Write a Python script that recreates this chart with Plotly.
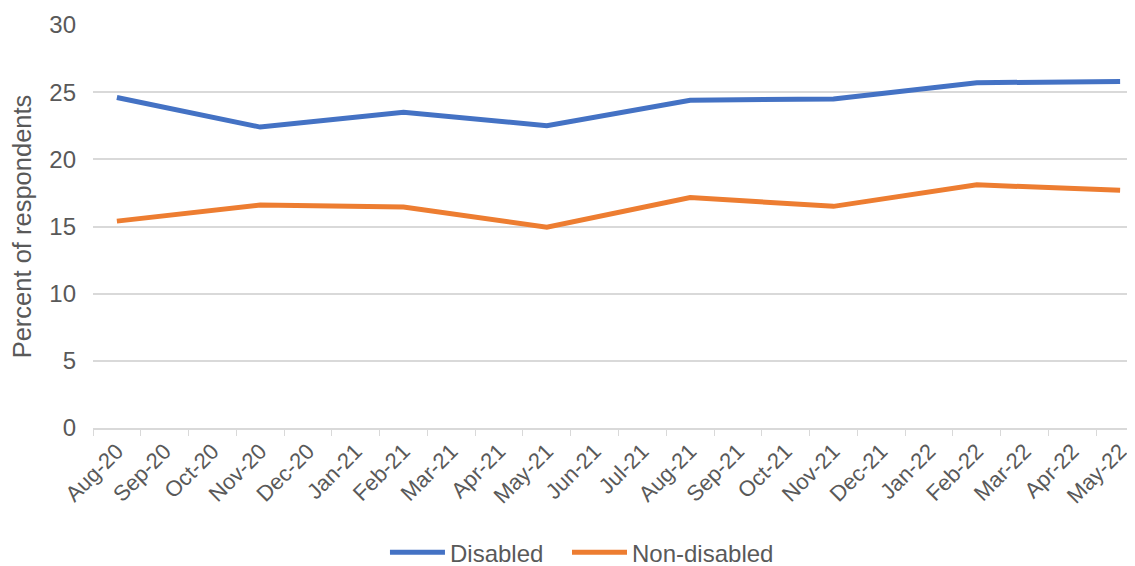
import plotly.graph_objects as go

months = ["Aug-20", "Sep-20", "Oct-20", "Nov-20", "Dec-20", "Jan-21", "Feb-21", "Mar-21",
          "Apr-21", "May-21", "Jun-21", "Jul-21", "Aug-21", "Sep-21", "Oct-21", "Nov-21",
          "Dec-21", "Jan-22", "Feb-22", "Mar-22", "Apr-22", "May-22"]
survey_months = ["Aug-20", "Nov-20", "Feb-21", "May-21", "Aug-21", "Nov-21", "Feb-22", "May-22"]
disabled = [24.6, 22.4, 23.5, 22.5, 24.4, 24.5, 25.7, 25.8]
non_disabled = [15.4, 16.6, 16.45, 14.95, 17.15, 16.5, 18.1, 17.7]

font_family = "Liberation Sans, Arial, sans-serif"
grey = "#595959"

fig = go.Figure()
fig.add_trace(go.Scatter(x=survey_months, y=disabled, mode="lines", name="Disabled",
                         line=dict(color="#4472C4", width=5), legend="legend"))
fig.add_trace(go.Scatter(x=survey_months, y=non_disabled, mode="lines", name="Non-disabled",
                         line=dict(color="#ED7D31", width=5), legend="legend2"))

legend_common = dict(orientation="h", y=-0.309, yanchor="middle", xanchor="left",
                     font=dict(size=24, color=grey), itemwidth=55, bgcolor="rgba(0,0,0,0)")

# page body has an 8px margin, so the figure is shifted by 8px right and down;
# the reference plot area runs slightly past the right edge of the picture
fig.update_layout(
    width=1138, height=558,
    margin=dict(l=85, r=2, t=17, b=138, autoexpand=False),
    paper_bgcolor="white", plot_bgcolor="white",
    font=dict(family=font_family, color=grey, size=24),
    showlegend=True,
    legend=dict(x=0.2778, **legend_common),
    legend2=dict(x=0.4510, **legend_common),
    xaxis=dict(type="category", categoryorder="array", categoryarray=months,
               range=[-0.5, len(months) - 0.5], tickangle=-45, tickson="boundaries",
               ticks="outside", ticklen=6, tickcolor="#D9D9D9", automargin=False,
               showline=True, linecolor="#D9D9D9", linewidth=1.5, showgrid=False,
               tickfont=dict(size=22, color=grey)),
    yaxis=dict(range=[0, 30], dtick=5, showgrid=True, gridcolor="#D9D9D9", gridwidth=1.5,
               zeroline=False, showline=False, ticks="", automargin=False,
               ticklabelstandoff=16,
               title=dict(text="Percent of respondents", font=dict(size=25.5, color=grey), standoff=12),
               tickfont=dict(size=24, color=grey)),
)

fig.write_html("out.html")
